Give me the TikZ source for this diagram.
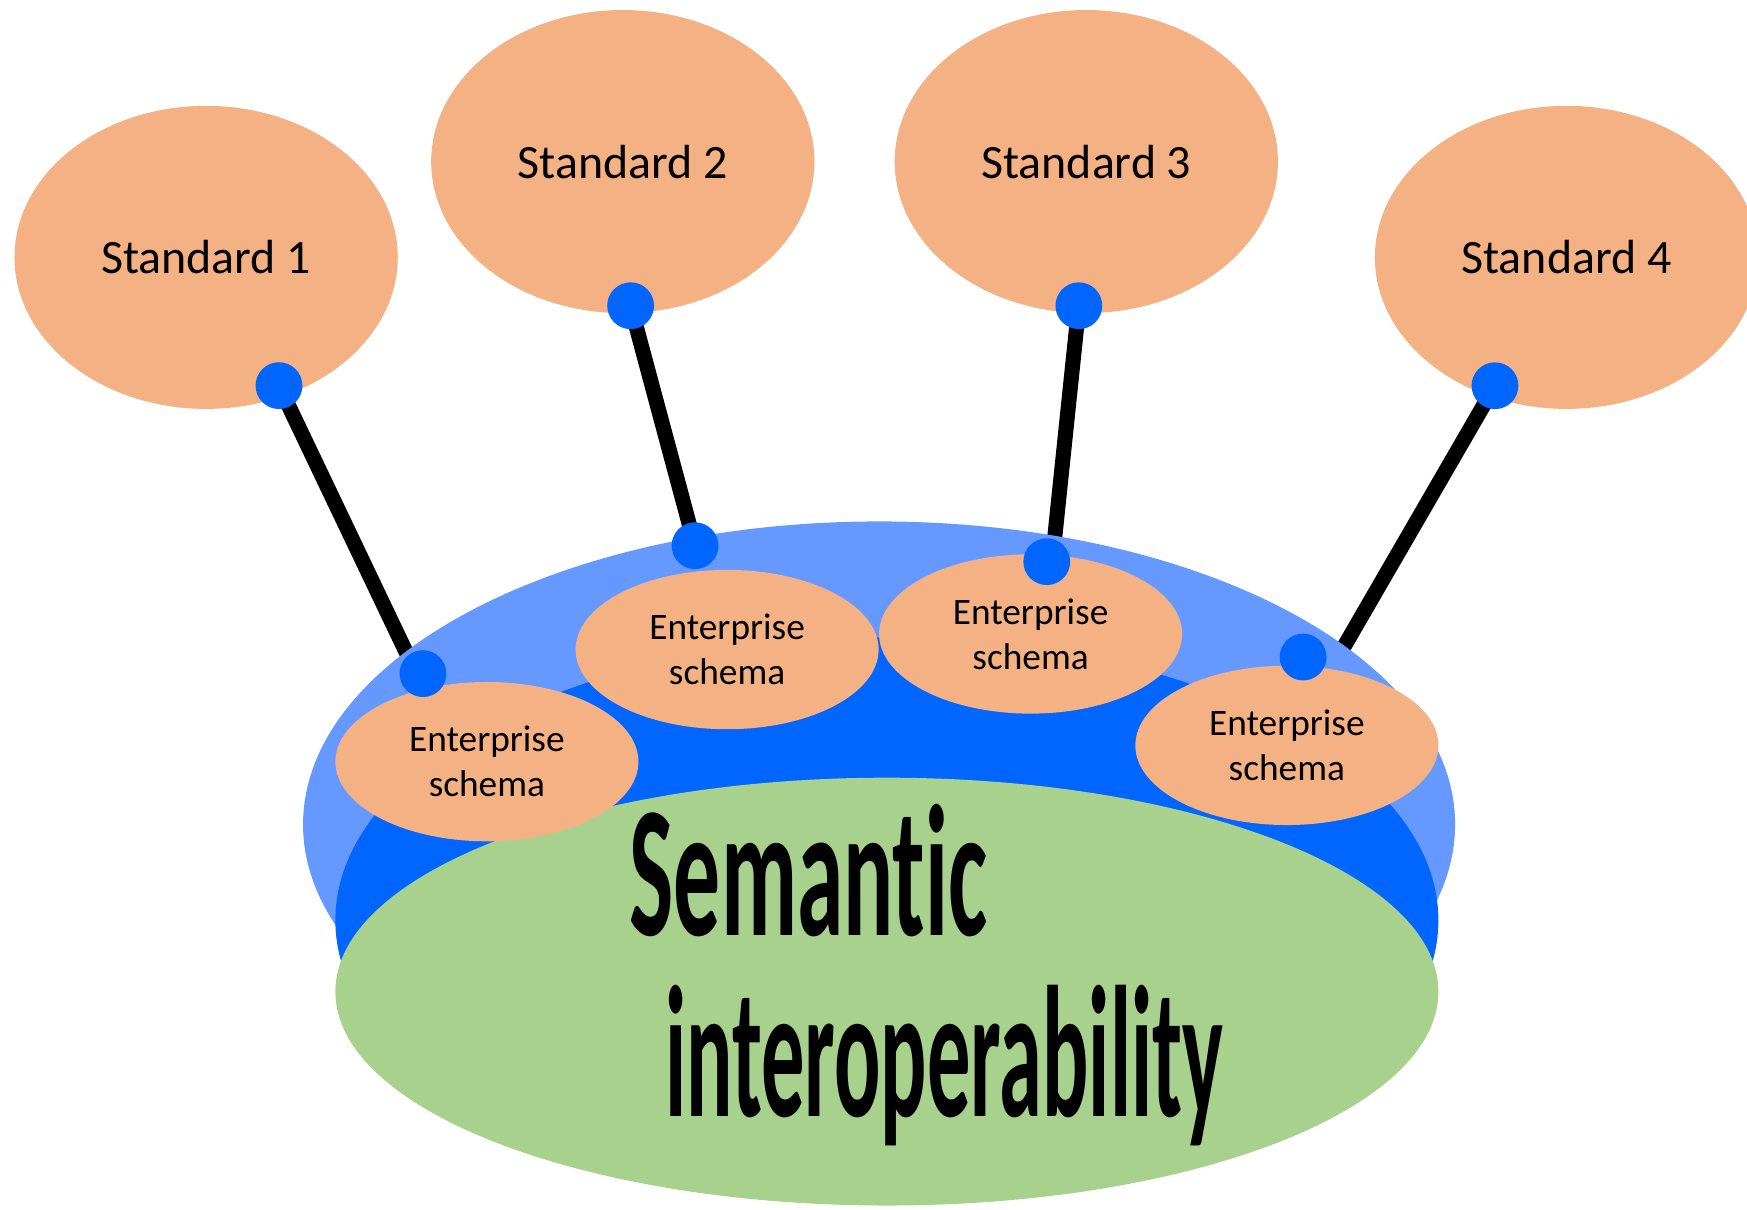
\documentclass[tikz,border=0pt]{standalone}
\usepackage{graphicx}
\usepackage{fontspec}
\setmainfont{Carlito}[Ligatures=NoCommon, RawFeature={-liga;-calt;-clig}]
\usetikzlibrary{shapes.geometric}
\definecolor{peach}{HTML}{F4B183}
\definecolor{skyblue}{HTML}{6699FF}
\definecolor{deepblue}{HTML}{0066FF}
\definecolor{leaf}{HTML}{A9D18E}
\pgfdeclarelayer{wires}
\pgfsetlayers{wires,main}

\begin{document}
\begin{tikzpicture}[x=1pt,y=-1pt,
  stdbox/.style={ellipse, fill=peach, inner sep=0pt,
    minimum width=344pt, minimum height=272pt,
    font=\fontsize{43}{50}\selectfont},
  entbox/.style={ellipse, fill=peach, inner sep=0pt,
    minimum width=272pt, minimum height=143pt, align=center,
    font=\fontsize{33.5}{40.4}\selectfont},
  joint/.style={circle, fill=deepblue, inner sep=0pt, minimum size=42pt},
  wire/.style={line width=13.5pt, draw=black},
  bigtext/.style={anchor=base west, inner sep=0pt,
    font=\fontsize{168}{168}\selectfont\bfseries}
]
\useasboundingbox (0,0) rectangle (1568,1086);
\clip (0,0) rectangle (1568,1086);

% the four standards
\node[stdbox] (s1) at (185,231) {Standard 1};
\node[stdbox] (s2) at (559,145) {Standard 2};
\node[stdbox] (s3) at (975,145) {Standard 3};
\node[stdbox] (s4) at (1406,231) {Standard 4};

% the layered bowl
\node[ellipse, fill=skyblue, inner sep=0pt, minimum width=1034pt, minimum height=544pt] (rim) at (789,740) {};
\node[ellipse, fill=deepblue, inner sep=0pt, minimum width=990pt, minimum height=508pt] (bowl) at (796,826) {};
\node[ellipse, fill=leaf, inner sep=0pt, minimum width=990pt, minimum height=384pt] (base) at (796,890) {};

\node[bigtext] (w1) at (565,839.8) {\scalebox{0.5}[1]{Semant\kern0pt ic}};
\node[bigtext] (w2) at (597,1002.2) {\scalebox{0.462}[1]{interoperability}};

% enterprise schemas on the rim
\node[entbox] (e1) at (437,683.6) {Enterprise\\schema};
\node[entbox] (e2) at (652.6,583) {Enterprise\\schema};
\node[entbox] (e3) at (925,569) {Enterprise\\schema};
\node[entbox] (e4) at (1155,669) {Enterprise\\schema};

% connection points
\node[joint] (d1a) at (250.4,346.1) {};
\node[joint] (d1b) at (379.6,604.6) {};
\node[joint] (d2a) at (566,274.4) {};
\node[joint] (d2b) at (623.8,489.8) {};
\node[joint] (d3a) at (968.3,274.4) {};
\node[joint] (d3b) at (939.5,504.1) {};
\node[joint] (d4a) at (1341.8,346.2) {};
\node[joint] (d4b) at (1169.6,589.7) {};

\coordinate (l1) at (373.7,604.6);
\coordinate (l3) at (944.4,504);

% links run underneath the bowl
\begin{pgfonlayer}{wires}
\draw[wire] (d1a.center) -- (l1);
\draw[wire] (d2a.center) -- (d2b.center);
\draw[wire] (d3a.center) -- (l3);
\draw[wire] (d4a.center) -- (e4.center);
\end{pgfonlayer}
\end{tikzpicture}
\end{document}
